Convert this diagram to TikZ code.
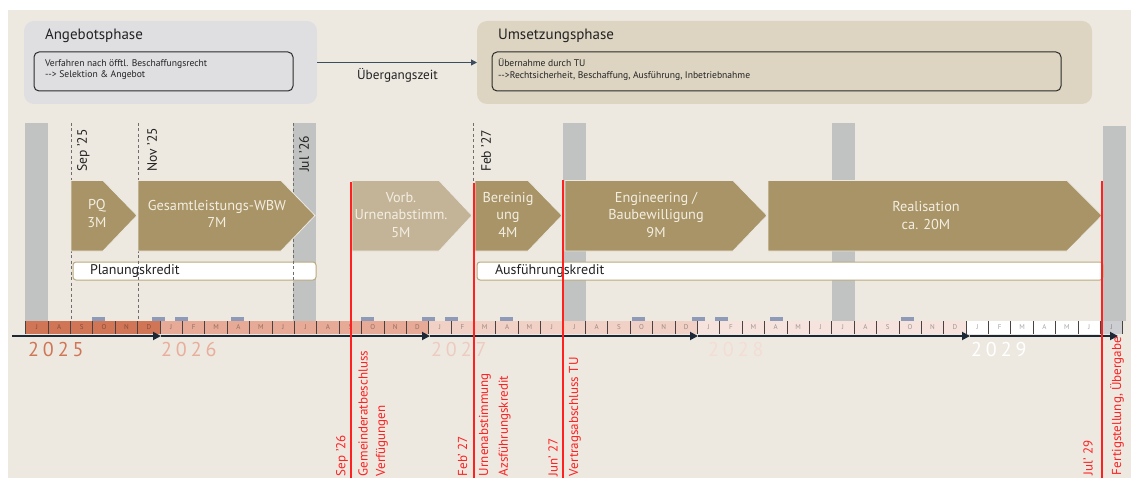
\documentclass[tikz,border=0pt]{standalone}
\usepackage{fontspec}
\setmainfont{PT Sans}
\usetikzlibrary{arrows.meta}
\definecolor{bg}{HTML}{EDE9E1}
\definecolor{angbg}{HTML}{DFDFE2}
\definecolor{umsbg}{HTML}{DDD5C2}
\definecolor{boxline}{HTML}{2A2A2A}
\definecolor{darktext}{HTML}{222222}
\definecolor{topline}{HTML}{3C4D60}
\definecolor{greybar}{HTML}{C1C2C2}
\definecolor{bluebar}{HTML}{8D9AB8}
\definecolor{gold}{HTML}{A89466}
\definecolor{goldlight}{HTML}{C3B498}
\definecolor{chevtext}{HTML}{F3EEE2}
\definecolor{kreditline}{HTML}{BBA97E}
\definecolor{dashgrey}{HTML}{6E6E6E}
\definecolor{redc}{HTML}{FF2020}
\definecolor{axis}{HTML}{1C2836}
\definecolor{sepc}{HTML}{4A4240}
\definecolor{c25}{HTML}{D07657}
\definecolor{c26}{HTML}{E6AA96}
\definecolor{c27}{HTML}{F1D1C6}
\definecolor{c28}{HTML}{F6E3DE}
\definecolor{c29}{HTML}{FFFFFF}
\definecolor{clast}{HTML}{CDCED2}
\definecolor{y25}{HTML}{CF7656}
\definecolor{y26}{HTML}{E8AE9B}
\definecolor{y27}{HTML}{EDCBBF}
\definecolor{y28}{HTML}{F3DDD5}
\definecolor{y29}{HTML}{FFFFFF}
\begin{document}
\begin{tikzpicture}[x=1pt,y=-1pt,
  every node/.style={inner sep=0pt, outer sep=0pt},
  phasebox/.style={rounded corners=10pt, minimum height=83pt, anchor=north west},
  innerbox/.style={draw=boxline, line width=1pt, rounded corners=5pt, minimum height=39pt, anchor=north west},
  ptitle/.style={anchor=west, text=darktext, font=\fontsize{15}{17}\selectfont},
  boxtxt/.style={anchor=west, align=left, text=darktext, font=\fontsize{9.6}{11.5}\selectfont},
  chevshape/.style={draw=bg, line width=0.8pt},
  chevtxt/.style={align=center, text=chevtext, font=\fontsize{14.3}{17.5}\selectfont},
  kredit/.style={fill=white, draw=kreditline, line width=1pt, rounded corners=3pt, minimum height=18pt, anchor=north west},
  ktxt/.style={anchor=west, text=darktext, font=\fontsize{14}{15}\selectfont},
  dashline/.style={draw=dashgrey, line width=0.8pt, dash pattern=on 3pt off 2.5pt},
  datelbl/.style={rotate=90, anchor=west, text=darktext, font=\fontsize{13.6}{15}\selectfont},
  redline/.style={draw=redc, line width=2pt},
  redlbl/.style={rotate=90, anchor=west, text=redc, font=\fontsize{13}{15}\selectfont},
  mlet/.style={text=black, text opacity=0.35, font=\fontsize{7}{8}\selectfont},
  sepline/.style={draw=sepc, line width=0.8pt},
  axisline/.style={draw=axis, line width=1.8pt, -{Triangle[length=8pt,width=8pt]}},
  yearlbl/.style={anchor=base west, font=\fontsize{20}{20}\selectfont}
]
\useasboundingbox (0,0) rectangle (1131,478);
\fill[white] (0,0) rectangle (1131,478);
\fill[bg] (8,10) rectangle (1131,478);

% top phase boxes
\node[phasebox, fill=angbg, minimum width=293pt] (ang) at (24,21) {};
\node[phasebox, fill=umsbg, minimum width=615pt] (ums) at (477,21) {};
\node[innerbox, fill=angbg, minimum width=259pt] (angin) at (34,52) {};
\node[innerbox, fill=umsbg, minimum width=569pt] (umsin) at (492,52) {};
\node[ptitle] (angt) at (45,36) {Angebotsphase};
\node[ptitle] (umst) at (498,36) {Umsetzungsphase};
\node[boxtxt] (angx) at (45,69.5) {Verfahren nach öfftl. Beschaffungsrecht\\-{}-{}> Selektion \& Angebot};
\node[boxtxt] (umsx) at (498,69.5) {Übernahme durch TU\\-{}-{}>Rechtsicherheit, Beschaffung, Ausführung, Inbetriebnahme};
\draw[draw=topline, line width=1pt, -{Triangle[length=6pt,width=6pt]}] (ang.east) -- (ums.west);
\node[font=\fontsize{13.2}{15}\selectfont, text=darktext] (ueb) at (397.5,75) {Übergangszeit};

% grey bars
\fill[greybar] (25,123) rectangle (48,321);
\fill[greybar] (293,123) rectangle (316,321);
\fill[greybar] (563,123) rectangle (586,321);
\fill[greybar] (832,123) rectangle (855,321);
\fill[greybar] (1103,126) rectangle (1126,321);

% blue markers
\foreach \x in {92,152,175,231,361,422,445,500,632,692,715,770,901}
  \fill[bluebar] (\x,317) rectangle ++(12.5,4);

% kredit boxes
\node[kredit, minimum width=243pt] (pk) at (73,262) {};
\node[kredit, minimum width=626pt] (ak) at (477,262) {};
\node[ktxt] (pkt) at (90,271) {Planungskredit};
\node[ktxt] (akt) at (495,271) {Ausführungskredit};

% dashed milestone lines
\draw[dashline] (71,123) -- (71,321);
\draw[dashline] (138,123) -- (138,321);
\draw[dashline] (293,123) -- (293,321);
\draw[dashline] (473.5,123) -- (473.5,321);
\node[datelbl] (d1) at (83.5,172) {Sep '25};
\node[datelbl] (d2) at (152,172) {Nov '25};
\node[datelbl] (d3) at (304,172) {Jul '26};
\node[datelbl] (d4) at (486,172) {Feb '27};

% chevrons
\fill[gold, chevshape] (71,180.5) -- (103,180.5) -- (137,215.5) -- (103,251) -- (71,251) -- cycle;
\fill[gold, chevshape] (138,180.5) -- (281,180.5) -- (315,215.5) -- (281,251) -- (138,251) -- cycle;
\fill[goldlight, chevshape] (352,180.5) -- (439,180.5) -- (472,215.5) -- (439,251) -- (352,251) -- cycle;
\fill[gold, chevshape] (475,180.5) -- (528,180.5) -- (562,215.5) -- (528,251) -- (475,251) -- cycle;
\fill[gold, chevshape] (565,180.5) -- (733,180.5) -- (767,215.5) -- (733,251) -- (565,251) -- cycle;
\fill[gold, chevshape] (768,180.5) -- (1067,180.5) -- (1102,215.5) -- (1067,251) -- (768,251) -- cycle;
\node[chevtxt] (pq) at (97,213.5) {PQ\\3M};
\node[chevtxt] (wbw) at (217,214) {Gesamtleistungs-WBW\\7M};
\node[chevtxt] (vorb) at (401,215) {Vorb.\\Urnenabstimm.\\5M};
\node[chevtxt] (ber) at (508,214.5) {Bereinig\\ung\\4M};
\node[chevtxt] (eng) at (656,214.5) {Engineering /\\Baubewilligung\\9M};
\node[chevtxt] (real) at (926,215.5) {Realisation\\ca. 20M};

% month cells
\foreach \i in {0,...,5} \fill[c25] ({25.7+\i*22.39},321) rectangle ++(22.39,13);
\foreach \i in {6,...,17} \fill[c26] ({25.7+\i*22.39},321) rectangle ++(22.39,13);
\foreach \i in {18,...,29} \fill[c27] ({25.7+\i*22.39},321) rectangle ++(22.39,13);
\foreach \i in {30,...,41} \fill[c28] ({25.7+\i*22.39},321) rectangle ++(22.39,13);
\foreach \i in {42,...,47} \fill[c29] ({25.7+\i*22.39},321) rectangle ++(22.39,13);
\fill[clast] ({25.7+48*22.39},321) rectangle ++(22.39,13);
\foreach \i in {0,...,49} \draw[sepline] ({25.7+\i*22.39},321) -- ++(0,13);
\foreach \i/\l in {0/J,1/A,2/S,3/O,4/N,5/D,6/J,7/F,8/M,9/A,10/M,11/J,12/J,13/A,14/S,15/O,16/N,17/D,18/J,19/F,20/M,21/A,22/M,23/J,24/J,25/A,26/S,27/O,28/N,29/D,30/J,31/F,32/M,33/A,34/M,35/J,36/J,37/A,38/S,39/O,40/N,41/D,42/J,43/F,44/M,45/A,46/M,47/J,48/J}
  \node[mlet] (m\i) at ({25.7+\i*22.39+11.2},327.5) {\l};

% axis arrows
\coordinate (t0) at (12,336);
\coordinate (t1) at (161,336);
\coordinate (t2) at (430,336);
\coordinate (t3) at (698,336);
\coordinate (t4) at (970,336);
\coordinate (t5) at (1118,336);
\draw[axisline] (t0) -- (t1);
\draw[axisline] (t1) -- (t2);
\draw[axisline] (t2) -- (t3);
\draw[axisline] (t3) -- (t4);
\draw[axisline] (t4) -- (t5);

% year labels
\node[yearlbl, text=y25] (yr25) at (28,356) {2\hspace{4pt}0\hspace{4pt}2\hspace{4pt}5};
\node[yearlbl, text=y26] (yr26) at (161,356) {2\hspace{4pt}0\hspace{4pt}2\hspace{4pt}6};
\node[yearlbl, text=y27] (yr27) at (431,356) {2\hspace{4pt}0\hspace{4pt}2\hspace{4pt}7};
\node[yearlbl, text=y28] (yr28) at (708,356) {2\hspace{4pt}0\hspace{4pt}2\hspace{4pt}8};
\node[yearlbl, text=y29] (yr29) at (971,356) {2\hspace{4pt}0\hspace{4pt}2\hspace{4pt}9};

% red decision lines
\draw[redline] (351,182) -- (351,478);
\draw[redline] (473.5,183) -- (473.5,478);
\draw[redline] (563,180) -- (563,478);
\draw[redline] (1102,181) -- (1102,478);
\node[redlbl] (r1a) at (342,476) {Sep '26};
\node[redlbl] (r1b) at (363,476) {Gemeinderatbeschluss};
\node[redlbl] (r1c) at (382,476) {Verfügungen};
\node[redlbl] (r2a) at (462.5,476) {Feb' 27};
\node[redlbl] (r2b) at (485,476) {Urnenabstimmung};
\node[redlbl] (r2c) at (504.5,476) {Azsführungskredit};
\node[redlbl] (r3a) at (553,476) {Jun' 27};
\node[redlbl] (r3b) at (575,476) {Vertragsabschluss TU};
\node[redlbl] (r4a) at (1088,475) {Jul' 29};
\node[redlbl] (r4b) at (1117,475) {Fertigstellung, Übergabe};
\end{tikzpicture}
\end{document}
